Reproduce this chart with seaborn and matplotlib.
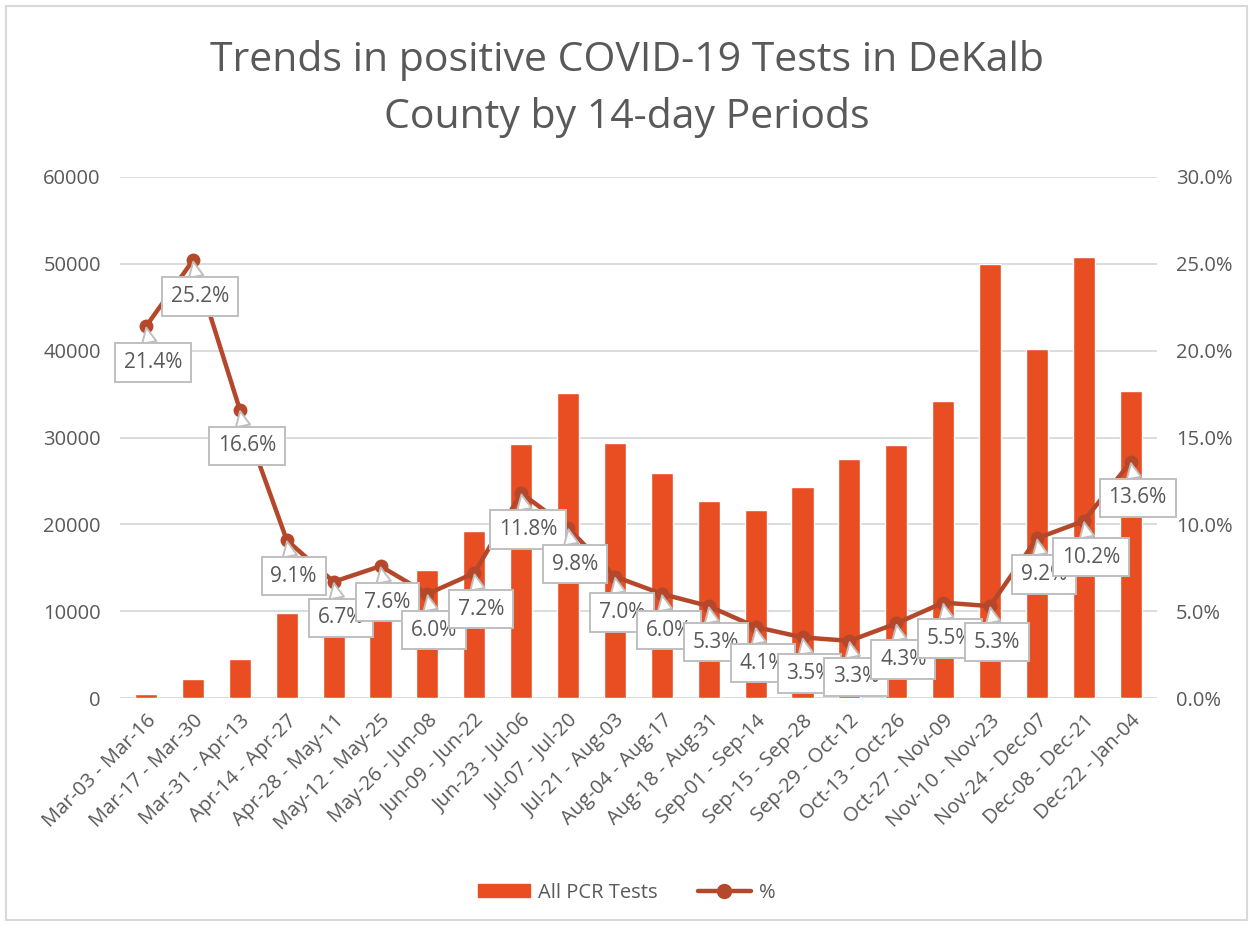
import numpy as np
import matplotlib
matplotlib.use('Agg')
import matplotlib.pyplot as plt
from matplotlib.ticker import FuncFormatter, MultipleLocator
from matplotlib.lines import Line2D
from matplotlib.patches import Patch, Rectangle
import seaborn as sns

# Data
periods = [
    'Mar-03 - Mar-16', 'Mar-17 - Mar-30', 'Mar-31 - Apr-13', 'Apr-14 - Apr-27',
    'Apr-28 - May-11', 'May-12 - May-25', 'May-26 - Jun-08', 'Jun-09 - Jun-22',
    'Jun-23 - Jul-06', 'Jul-07 - Jul-20', 'Jul-21 - Aug-03', 'Aug-04 - Aug-17',
    'Aug-18 - Aug-31', 'Sep-01 - Sep-14', 'Sep-15 - Sep-28', 'Sep-29 - Oct-12',
    'Oct-13 - Oct-26', 'Oct-27 - Nov-09', 'Nov-10 - Nov-23', 'Nov-24 - Dec-07',
    'Dec-08 - Dec-21', 'Dec-22 - Jan-04',
]
pcr_tests = [500, 2200, 4500, 9800, 8600, 10400, 14700, 19200, 29200, 35100, 29400,
             25900, 22700, 21700, 24300, 27500, 29100, 34200, 50000, 40200, 50800, 35300]
pct_positive = [21.4, 25.2, 16.6, 9.1, 6.7, 7.6, 6.0, 7.2, 11.8, 9.8, 7.0,
                6.0, 5.3, 4.1, 3.5, 3.3, 4.3, 5.5, 5.3, 9.2, 10.2, 13.6]

BAR_COLOR = '#E84E22'
LINE_COLOR = '#B5472A'
TEXT_COLOR = '#595959'
GRID_COLOR = '#D9D9D9'
TICK_SIZE = 14.5

sns.set_theme(style='white')
plt.rcParams['font.family'] = ['Open Sans', 'DejaVu Sans']

fig = plt.figure(figsize=(12.53, 9.26), dpi=100)
fig.patches.append(Rectangle((0.005, 0.006), 0.99, 0.988, transform=fig.transFigure,
                             fill=False, edgecolor=GRID_COLOR, linewidth=1.5))
ax = fig.add_axes([0.096, 0.246, 0.827, 0.563])

x = np.arange(len(periods))
sns.barplot(x=periods, y=pcr_tests, color=BAR_COLOR, saturation=1, width=0.47, ax=ax, zorder=2)
ax.set_ylim(0, 60000)
ax.yaxis.set_major_locator(MultipleLocator(10000))
ax.grid(axis='y', color=GRID_COLOR, linewidth=1.3, zorder=0)
ax.set_axisbelow(True)
ax.set_xlim(-0.55, len(periods) - 0.45)
ax.tick_params(axis='y', length=0, labelsize=TICK_SIZE, colors=TEXT_COLOR, pad=14)
ax.tick_params(axis='x', length=0, labelsize=TICK_SIZE, colors=TEXT_COLOR, pad=9)
ax.set_xticks(x)
ax.set_xticklabels(periods, rotation=45, ha='right', rotation_mode='anchor')
for s in ax.spines.values():
    s.set_visible(False)
ax.axhline(0, color=GRID_COLOR, linewidth=1.3, zorder=1)

ax2 = ax.twinx()
sns.lineplot(x=x, y=pct_positive, color=LINE_COLOR, linewidth=3.2, marker='o',
             markersize=10, markeredgewidth=0, ax=ax2, zorder=3)
ax2.set_ylim(0, 30)
ax2.yaxis.set_major_locator(MultipleLocator(5))
ax2.yaxis.set_major_formatter(FuncFormatter(lambda v, p: f'{v:.1f}%'))
ax2.tick_params(axis='y', length=0, labelsize=TICK_SIZE, colors=TEXT_COLOR, pad=14)
for s in ax2.spines.values():
    s.set_visible(False)
ax2.set_xlim(ax.get_xlim())

# callout labels
for i, (xi, v) in enumerate(zip(x, pct_positive)):
    ax2.annotate(f'{v:.1f}%', xy=(xi, v), xytext=(5, -26), textcoords='offset points',
                 ha='center', va='center', fontsize=15, color=TEXT_COLOR, zorder=10 + i,
                 bbox=dict(boxstyle='square,pad=0.42', fc='white', ec='#BFBFBF', lw=1.4),
                 arrowprops=dict(arrowstyle='wedge,tail_width=0.7', fc='white', ec='#BFBFBF',
                                 lw=1.4, shrinkA=0, shrinkB=1))

fig.text(0.5, 0.904, 'Trends in positive COVID-19 Tests in DeKalb\nCounty by 14-day Periods',
         ha='center', va='center', fontsize=29.5, color=TEXT_COLOR, linespacing=1.5)

handles = [Patch(color=BAR_COLOR, label='All PCR Tests'),
           Line2D([0], [0], color=LINE_COLOR, linewidth=3.2, marker='o', markersize=10,
                  label='%')]
fig.legend(handles=handles, loc='center', bbox_to_anchor=(0.5, 0.036), ncol=2,
           frameon=False, fontsize=TICK_SIZE, labelcolor=TEXT_COLOR, handlelength=2.6,
           handleheight=0.6, columnspacing=2.0, handletextpad=0.4)

fig.savefig('out.png', dpi=100)
